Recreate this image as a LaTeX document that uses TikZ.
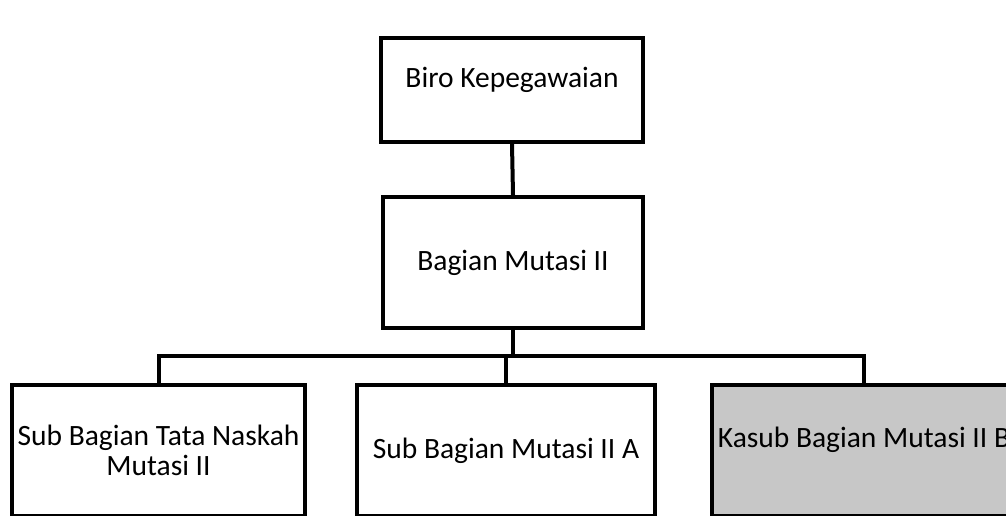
\documentclass[tikz,border=0pt]{standalone}
\usepackage{fontspec}
\setmainfont{Carlito}
\begin{document}
\begin{tikzpicture}[x=1pt,y=-1pt,
  box/.style={draw=black,line width=4pt,rectangle,inner sep=0pt,align=center,
    font=\fontsize{29.5}{30}\selectfont},
  conn/.style={draw=black,line width=4pt}]
\useasboundingbox (0,0) rectangle (1006,515);
\clip (0,0) rectangle (1006,515);
\node[box,minimum width=262pt,minimum height=104pt,text depth=26pt] (biro) at (512,90) {Biro Kepegawaian};
\node[box,minimum width=260pt,minimum height=131pt] (bag) at (513,262.5) {Bagian Mutasi II};
\node[box,minimum width=293pt,minimum height=131pt] (sb1) at (158.5,450.5) {Sub Bagian Tata Naskah\\Mutasi II};
\node[box,minimum width=298pt,minimum height=131pt] (sb2) at (506,450.5) {Sub Bagian Mutasi II A};
\node[box,fill=black!22,minimum width=304pt,minimum height=131pt,text depth=26pt] (sb3) at (864,450.5) {Kasub Bagian Mutasi II B};
\coordinate (bus) at (513,356);
\draw[conn] (biro.south) -- (bag.north);
\draw[conn] (bag.south) -- (bus);
\draw[conn,line cap=rect] (sb1.north) |- (bus) -| (sb3.north);
\draw[conn] (sb2.north) -- (sb2.north |- bus);
\end{tikzpicture}
\end{document}
